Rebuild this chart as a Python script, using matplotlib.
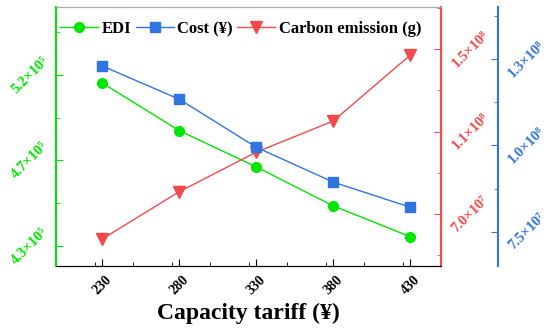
import numpy as np
import matplotlib
matplotlib.use('Agg')
import matplotlib.pyplot as plt
from matplotlib.ticker import FixedLocator, MultipleLocator

# DATA
# ================================================================================

tariff = [230, 280, 330, 380, 430]
edi = [5.158e5, 4.907e5, 4.716e5, 4.511e5, 4.349e5]
cost = [1.278e8, 1.172e8, 1.019e8, 9.08e7, 8.28e7]
carbon = [5.79e7, 8.08e7, 1.0e8, 1.151e8, 1.471e8]

edi_ticks = [4.3e5, 4.75e5, 5.2e5]
edi_labels = ['4.3×10⁵', '4.7×10⁵', '5.2×10⁵']
carbon_ticks = [7.0e7, 1.1e8, 1.5e8]
carbon_labels = ['7.0×10⁷', '1.1×10⁸', '1.5×10⁸']
cost_ticks = [7.5e7, 1.025e8, 1.3e8]
cost_labels = ['7.5×10⁷', '1.0×10⁸', '1.3×10⁸']


class Colors:
    green = '#00e600'
    red = '#f24a4a'
    blue = '#2f74e0'


plt.rcParams['font.family'] = ['Liberation Serif', 'DejaVu Serif']
plt.rcParams['font.weight'] = 'bold'

fig = plt.figure(figsize=(5.5, 3.32), dpi=100)
ax = fig.add_axes([0.102, 0.199, 0.700, 0.780])
ax2 = ax.twinx()
ax3 = ax.twinx()
ax3.spines['right'].set_position(('axes', 1.148))

l1, = ax.plot(tariff, edi, color=Colors.green, marker='o', markersize=7, linewidth=1, label='EDI')
l2, = ax3.plot(tariff, cost, color=Colors.blue, marker='s', markersize=6.5, linewidth=1, label='Cost (¥)')
l3, = ax2.plot(tariff, carbon, color=Colors.red, marker='v', markersize=8, linewidth=1, label='Carbon emission (g)')

ax.set_xlim(200, 450)
ax.set_ylim(4.195e5, 5.558e5)
ax2.set_ylim(4.48e7, 1.704e8)
ax3.set_ylim(6.41e7, 1.466e8)

ax.set_xticks(tariff)
ax.xaxis.set_minor_locator(MultipleLocator(25))
ax.set_xticklabels([str(t) for t in tariff], rotation=45, fontsize=10, fontweight='bold')
ax.set_xlabel('Capacity tariff (¥)', fontsize=17, fontweight='bold', labelpad=4)

ax.set_yticks(edi_ticks)
ax.set_yticklabels(edi_labels, color=Colors.green, ha='center', rotation=45, fontsize=10.5, fontweight='bold', va='center')
ax.yaxis.set_minor_locator(FixedLocator([4.3e5 - 0.225e5, 4.525e5, 4.975e5, 5.425e5]))

ax2.set_yticks(carbon_ticks)
ax2.set_yticklabels(carbon_labels, color=Colors.red, ha='center', rotation=45, fontsize=10.5, fontweight='bold', va='center')
ax2.yaxis.set_minor_locator(FixedLocator([5.0e7, 9.0e7, 1.3e8, 1.7e8]))

ax3.set_yticks(cost_ticks)
ax3.set_yticklabels(cost_labels, color=Colors.blue, ha='center', rotation=45, fontsize=10.5, fontweight='bold', va='center')
ax3.yaxis.set_minor_locator(FixedLocator([8.875e7, 1.1625e8, 1.4375e8]))

# Tick directions and spine colours
ax.tick_params(axis='both', which='both', direction='in')
ax.tick_params(axis='x', which='major', length=5, pad=5)
ax.tick_params(axis='x', which='minor', length=3)
ax.tick_params(axis='y', which='major', length=5, color=Colors.green, pad=19)
ax.tick_params(axis='y', which='minor', length=3, color=Colors.green)
ax2.tick_params(axis='y', which='both', direction='in', color=Colors.red, pad=21)
ax2.tick_params(axis='y', which='major', length=5)
ax2.tick_params(axis='y', which='minor', length=3)
ax3.tick_params(axis='y', which='both', direction='in', color=Colors.blue, pad=20.5)
ax3.tick_params(axis='y', which='major', length=5)
ax3.tick_params(axis='y', which='minor', length=3)

for a in (ax, ax2, ax3):
    a.spines['top'].set_color('#aaaaaa')
ax.spines['left'].set_color(Colors.green)
ax.spines['left'].set_linewidth(1.5)
ax2.spines['right'].set_color(Colors.red)
ax2.spines['right'].set_linewidth(1.5)
ax3.spines['right'].set_color(Colors.blue)
ax3.spines['right'].set_linewidth(1.5)
ax3.spines['left'].set_visible(False)
ax3.spines['top'].set_visible(False)
ax3.spines['bottom'].set_visible(False)
ax2.spines['left'].set_visible(False)

ax.legend(handles=[l1, l2, l3], loc='upper left', ncol=3, frameon=False,
          prop={'family': 'Liberation Serif', 'weight': 'bold', 'size': 12},
          handlelength=2.3, handletextpad=0.2, columnspacing=0.25,
          bbox_to_anchor=(-0.02, 0.99), borderaxespad=0.3)

fig.savefig('out.png', dpi=100)
